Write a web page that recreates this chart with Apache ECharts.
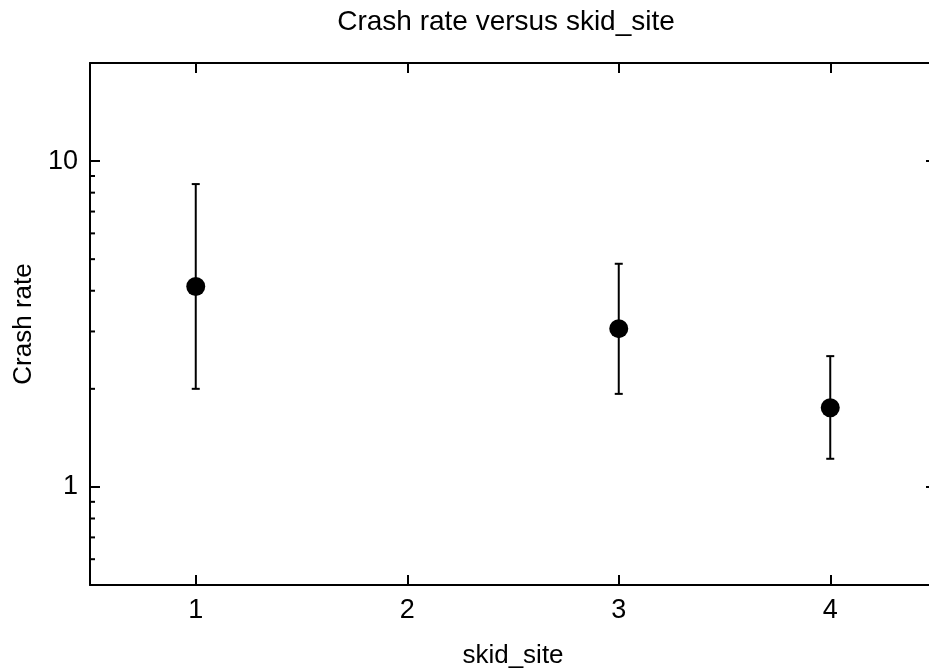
<!DOCTYPE html>
<html>
<head>
<meta charset="utf-8">
<script src="https://cdn.jsdelivr.net/npm/echarts@6/dist/echarts.min.js"></script>
<style>
  html, body { margin: 0; padding: 0; background: #fff; overflow: hidden; }
  #chart { width: 929px; height: 672px; }
</style>
</head>
<body>
<div id="chart"></div>
<script>
// Crash rate by skid site, with confidence limits
const siteX = [1, 3, 4];
const crashRate = [4.12, 3.06, 1.75];
const rateLower = [2.0, 1.93, 1.22];
const rateUpper = [8.5, 4.84, 2.52];

const xTickValues = [1, 2, 3, 4];
const yTickValues = [1, 10];
const yMinorTickValues = [0.6, 0.7, 0.8, 0.9, 2, 3, 4, 5, 6, 7, 8, 9];

const X_MIN = 0.5, X_MAX = 4.5, Y_MIN = 0.5, Y_MAX = 20;
const FONT = 'Liberation Sans, Arial, sans-serif';
const INK = '#000';

const chart = echarts.init(document.getElementById('chart'), null, { renderer: 'canvas' });

const pointData = siteX.map((x, i) => [x, crashRate[i]]);
const barData = siteX.map((x, i) => [x, rateLower[i], rateUpper[i]]);
const minorData = yMinorTickValues.map(v => [v]);

function renderErrorBar(params, api) {
  const x = api.value(0);
  const lo = api.coord([x, api.value(1)]);
  const hi = api.coord([x, api.value(2)]);
  const cap = 4;
  const style = { stroke: INK, lineWidth: 2, fill: null };
  return {
    type: 'group',
    children: [
      { type: 'line', shape: { x1: lo[0], y1: lo[1], x2: hi[0], y2: hi[1] }, style },
      { type: 'line', shape: { x1: lo[0] - cap, y1: lo[1], x2: lo[0] + cap, y2: lo[1] }, style },
      { type: 'line', shape: { x1: hi[0] - cap, y1: hi[1], x2: hi[0] + cap, y2: hi[1] }, style }
    ]
  };
}

function renderMinorTicks(params, api) {
  const v = api.value(0);
  const left = api.coord([X_MIN, v]);
  const right = api.coord([X_MAX, v]);
  const len = 5;
  const style = { stroke: INK, lineWidth: 2 };
  return {
    type: 'group',
    children: [
      { type: 'line', shape: { x1: left[0], y1: left[1], x2: left[0] + len, y2: left[1] }, style },
      { type: 'line', shape: { x1: right[0], y1: right[1], x2: right[0] - len, y2: right[1] }, style }
    ]
  };
}

const axisLine = { show: true, onZero: false, lineStyle: { color: INK, width: 2 } };
const majorTick = (values) => ({
  show: true, inside: true, length: 10,
  lineStyle: { color: INK, width: 2 },
  customValues: values
});

chart.setOption({
  animation: false,
  backgroundColor: '#fff',
  graphic: [{
    type: 'text',
    x: 506,
    y: 8,
    style: {
      text: 'Crash rate versus skid_site',
      font: '28px ' + FONT,
      fill: INK,
      textAlign: 'center',
      textVerticalAlign: 'top'
    }
  }],
  grid: {
    left: 90, top: 63, width: 846, height: 522,
    containLabel: false,
    outerBoundsMode: 'none'
  },
  xAxis: [{
    type: 'value',
    min: X_MIN, max: X_MAX,
    position: 'bottom',
    name: 'skid_site',
    nameLocation: 'middle',
    nameGap: 58,
    nameTextStyle: { color: INK, fontSize: 26, fontFamily: FONT },
    axisLine,
    axisTick: majorTick(xTickValues),
    axisLabel: { color: INK, fontSize: 27, fontFamily: FONT, margin: 12, customValues: xTickValues },
    splitLine: { show: false }
  }, {
    type: 'value',
    min: X_MIN, max: X_MAX,
    position: 'top',
    axisLine,
    axisTick: majorTick(xTickValues),
    axisLabel: { show: false },
    splitLine: { show: false }
  }],
  yAxis: [{
    type: 'log',
    logBase: 10,
    min: Y_MIN, max: Y_MAX,
    position: 'left',
    name: 'Crash rate',
    nameLocation: 'middle',
    nameRotate: 90,
    nameGap: 53,
    nameTextStyle: { color: INK, fontSize: 26, fontFamily: FONT },
    axisLine,
    axisTick: majorTick(yTickValues),
    axisLabel: { color: INK, fontSize: 27, fontFamily: FONT, margin: 12, customValues: yTickValues },
    splitLine: { show: false }
  }, {
    type: 'log',
    logBase: 10,
    min: Y_MIN, max: Y_MAX,
    position: 'right',
    axisLine,
    axisTick: majorTick(yTickValues),
    axisLabel: { show: false },
    splitLine: { show: false }
  }],
  series: [{
    type: 'custom',
    name: 'minor ticks',
    xAxisIndex: 0, yAxisIndex: 0,
    data: minorData,
    encode: { y: 0 },
    renderItem: renderMinorTicks,
    silent: true,
    clip: false,
    z: 1
  }, {
    type: 'custom',
    name: 'limits',
    xAxisIndex: 0, yAxisIndex: 0,
    data: barData,
    encode: { x: 0, y: [1, 2] },
    renderItem: renderErrorBar,
    z: 2
  }, {
    type: 'scatter',
    name: 'Crash rate',
    xAxisIndex: 0, yAxisIndex: 0,
    data: pointData,
    symbol: 'circle',
    symbolSize: 19,
    itemStyle: { color: INK, opacity: 1 },
    z: 3
  }]
});
</script>
</body>
</html>
